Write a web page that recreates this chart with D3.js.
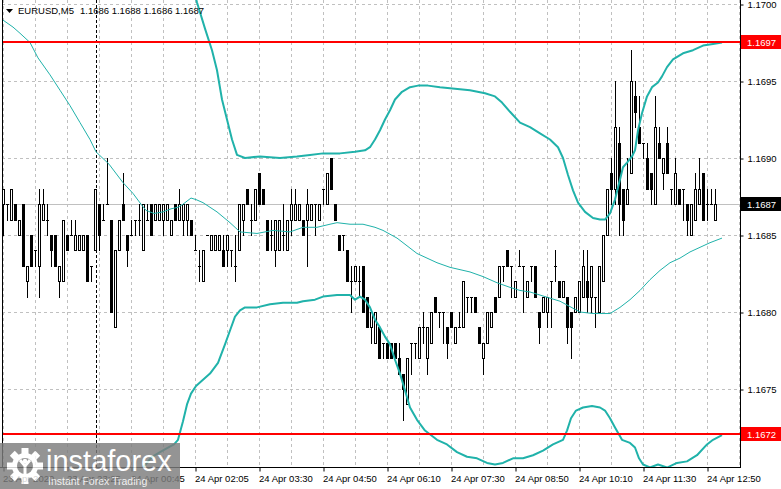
<!DOCTYPE html>
<html>
<head>
<meta charset="utf-8">
<script src="https://cdn.jsdelivr.net/npm/d3@7"></script>
<style>
body { margin: 0; background: #fff; }
svg { display: block; }
text { font-family: "Liberation Sans", Arial, sans-serif; }
</style>
</head>
<body>
<svg width="781" height="489"></svg>
<script>
// EURUSD M5 bars, 23 Apr 22:05 .. 24 Apr 13:00
const opens = [
1.1687,1.1687,1.1686,1.1687,1.1685,1.1687,1.1682,1.1685,1.1684,1.1683,
1.1686,1.1686,1.1685,1.1685,1.1682,1.1682,1.1685,1.1685,1.1684,1.1684,
1.1684,1.1685,1.1683,1.1684,1.1687,1.1686,1.1687,1.1686,1.1679,1.1684,
1.1687,1.1685,1.1685,1.1686,1.1686,1.1684,1.1686,1.1687,1.1686,1.1686,
1.1686,1.1686,1.1685,1.1687,1.1686,1.1686,1.1686,1.1686,1.1684,1.1683,
1.1682,1.1685,1.1684,1.1684,1.1684,1.1684,1.1684,1.1684,1.1683,1.1684,
1.1686,1.1688,1.1686,1.1686,1.1689,1.1688,1.1686,1.1685,1.1684,1.1684,
1.1685,1.1684,1.1686,1.1686,1.1686,1.1686,1.1686,1.1686,1.1687,1.1686,
1.1688,1.1687,1.1690,1.1687,1.1685,1.1685,1.1684,1.1682,1.1682,1.1682,
1.1683,1.1681,1.1679,1.1678,1.1679,1.1678,1.1678,1.1678,1.1678,1.1677,
1.1676,1.1674,1.1678,1.1678,1.1677,1.1679,1.1677,1.1678,1.1681,1.1680,
1.1680,1.1679,1.1680,1.1678,1.1679,1.1679,1.1681,1.1681,1.1681,1.1679,
1.1677,1.1678,1.1679,1.1681,1.1681,1.1683,1.1684,1.1683,1.1681,1.1683,
1.1683,1.1681,1.1683,1.1683,1.1680,1.1680,1.1680,1.1682,1.1683,1.1682,
1.1681,1.1681,1.1680,1.1680,1.1680,1.1681,1.1682,1.1681,1.1681,1.1680,
1.1682,1.1685,1.1689,1.1688,1.1691,1.1688,1.1687,1.1689,1.1694,1.1692,
1.1691,1.1690,1.1689,1.1687,1.1691,1.1689,1.1691,1.1688,1.1687,1.1688,
1.1688,1.1687,1.1685,1.1686,1.1687,1.1689,1.1687,1.1687,1.1686]
const highs = [
1.1688,1.1687,1.1688,1.1687,1.1686,1.1687,1.1683,1.1685,1.1684,1.1688,
1.1688,1.1687,1.1685,1.1685,1.1683,1.1686,1.1685,1.1686,1.1686,1.1685,
1.1685,1.1685,1.1683,1.1688,1.1687,1.1687,1.1690,1.1686,1.1684,1.1686,
1.1689,1.1685,1.1686,1.1686,1.1687,1.1687,1.1687,1.1687,1.1687,1.1687,
1.1687,1.1687,1.1686,1.1687,1.1688,1.1687,1.1687,1.1686,1.1685,1.1684,
1.1684,1.1685,1.1685,1.1685,1.1685,1.1685,1.1685,1.1684,1.1685,1.1687,
1.1687,1.1688,1.1687,1.1688,1.1689,1.1688,1.1686,1.1686,1.1686,1.1686,
1.1687,1.1686,1.1688,1.1688,1.1687,1.1686,1.1688,1.1687,1.1687,1.1687,
1.1688,1.1689,1.1690,1.1687,1.1685,1.1685,1.1684,1.1683,1.1683,1.1683,
1.1683,1.1681,1.1680,1.1680,1.1679,1.1678,1.1678,1.1678,1.1678,1.1678,
1.1676,1.1677,1.1678,1.1678,1.1679,1.1680,1.1679,1.1680,1.1681,1.1680,
1.1680,1.1679,1.1680,1.1679,1.1680,1.1682,1.1681,1.1681,1.1681,1.1679,
1.1678,1.1680,1.1680,1.1681,1.1683,1.1683,1.1684,1.1683,1.1682,1.1684,
1.1683,1.1682,1.1683,1.1683,1.1680,1.1681,1.1681,1.1682,1.1684,1.1682,
1.1682,1.1681,1.1680,1.1681,1.1682,1.1684,1.1684,1.1683,1.1681,1.1683,
1.1685,1.1688,1.1690,1.1695,1.1692,1.1688,1.1690,1.1697,1.1695,1.1694,
1.1691,1.1691,1.1689,1.1694,1.1692,1.1690,1.1692,1.1688,1.1690,1.1688,
1.1688,1.1687,1.1687,1.1689,1.1690,1.1689,1.1688,1.1688,1.1688]
const lows = [
1.1685,1.1686,1.1686,1.1686,1.1685,1.1683,1.1681,1.1683,1.1683,1.1681,
1.1686,1.1685,1.1683,1.1683,1.1681,1.1682,1.1684,1.1685,1.1684,1.1684,
1.1684,1.1682,1.1682,1.1684,1.1684,1.1686,1.1687,1.1680,1.1679,1.1684,
1.1686,1.1683,1.1685,1.1685,1.1685,1.1684,1.1686,1.1685,1.1686,1.1686,
1.1685,1.1686,1.1685,1.1686,1.1686,1.1685,1.1685,1.1685,1.1684,1.1682,
1.1682,1.1685,1.1684,1.1684,1.1684,1.1683,1.1683,1.1683,1.1682,1.1684,
1.1685,1.1687,1.1685,1.1686,1.1687,1.1687,1.1684,1.1684,1.1683,1.1684,
1.1684,1.1684,1.1685,1.1686,1.1686,1.1685,1.1683,1.1686,1.1685,1.1686,
1.1687,1.1687,1.1688,1.1686,1.1684,1.1684,1.1682,1.1680,1.1682,1.1681,
1.1680,1.1679,1.1678,1.1678,1.1677,1.1677,1.1677,1.1677,1.1677,1.1676,
1.1673,1.1674,1.1676,1.1677,1.1677,1.1678,1.1676,1.1678,1.1680,1.1679,
1.1678,1.1677,1.1679,1.1678,1.1679,1.1679,1.1680,1.1680,1.1680,1.1678,
1.1676,1.1678,1.1679,1.1680,1.1681,1.1682,1.1683,1.1681,1.1681,1.1683,
1.1680,1.1681,1.1682,1.1681,1.1678,1.1680,1.1679,1.1679,1.1682,1.1681,
1.1681,1.1678,1.1677,1.1680,1.1680,1.1681,1.1680,1.1680,1.1679,1.1680,
1.1682,1.1685,1.1687,1.1687,1.1685,1.1685,1.1687,1.1689,1.1692,1.1691,
1.1690,1.1688,1.1687,1.1687,1.1690,1.1688,1.1689,1.1687,1.1687,1.1687,
1.1686,1.1685,1.1685,1.1686,1.1687,1.1686,1.1686,1.1687,1.1686]
const closes = [
1.1688,1.1687,1.1688,1.1686,1.1686,1.1683,1.1683,1.1683,1.1684,1.1687,
1.1687,1.1686,1.1684,1.1683,1.1683,1.1686,1.1684,1.1685,1.1685,1.1685,
1.1685,1.1682,1.1683,1.1688,1.1685,1.1686,1.1687,1.1680,1.1684,1.1686,
1.1686,1.1684,1.1685,1.1686,1.1686,1.1687,1.1686,1.1685,1.1687,1.1687,
1.1687,1.1687,1.1686,1.1686,1.1687,1.1687,1.1687,1.1685,1.1684,1.1683,
1.1684,1.1685,1.1685,1.1685,1.1685,1.1683,1.1685,1.1684,1.1683,1.1687,
1.1687,1.1687,1.1686,1.1688,1.1687,1.1687,1.1684,1.1685,1.1686,1.1686,
1.1685,1.1686,1.1687,1.1687,1.1687,1.1685,1.1687,1.1687,1.1687,1.1687,
1.1688,1.1689,1.1688,1.1686,1.1684,1.1685,1.1682,1.1682,1.1683,1.1682,
1.1680,1.1679,1.1680,1.1680,1.1677,1.1678,1.1677,1.1677,1.1677,1.1676,
1.1675,1.1677,1.1678,1.1678,1.1679,1.1679,1.1679,1.1680,1.1680,1.1680,
1.1680,1.1678,1.1679,1.1679,1.1679,1.1682,1.1681,1.1681,1.1680,1.1678,
1.1678,1.1680,1.1680,1.1680,1.1683,1.1683,1.1683,1.1683,1.1682,1.1683,
1.1683,1.1682,1.1683,1.1681,1.1679,1.1681,1.1681,1.1682,1.1683,1.1681,
1.1682,1.1679,1.1679,1.1681,1.1682,1.1683,1.1681,1.1683,1.1681,1.1683,
1.1685,1.1688,1.1688,1.1692,1.1687,1.1686,1.1688,1.1695,1.1693,1.1691,
1.1691,1.1688,1.1688,1.1692,1.1690,1.1690,1.1689,1.1688,1.1689,1.1687,
1.1688,1.1686,1.1687,1.1688,1.1688,1.1686,1.1687,1.1687,1.1687]

// Bollinger bands: [bar index, price]
const upperBand = [
[46.75,1.17019],[48.5,1.17001],[50.5,1.16984],[52.25,1.16970],[53.5,1.16957],[54.75,1.16938],
[56,1.16925],[57.25,1.16912],[58.5,1.16902],[60.5,1.16900],[64.25,1.16901],[69.25,1.16900],
[73.5,1.16901],[76.75,1.16902],[80,1.16903],[84.25,1.16903],[88,1.16904],[90.5,1.16905],
[91.75,1.16907],[93,1.16912],[94.25,1.16918],[95.5,1.16925],[96.75,1.16931],[98,1.16938],
[99.75,1.16943],[101.75,1.16946],[103.75,1.16947],[106.25,1.16947],[109.25,1.16946],[113,1.16945],
[116.75,1.16944],[120.5,1.16942],[123,1.16940],[124.75,1.16936],[126.75,1.16930],[129.25,1.16923],
[131.75,1.16920],[134.25,1.16916],[136.75,1.16912],[138.75,1.16907],[140,1.16900],[141.25,1.16889],
[142.5,1.16879],[143.75,1.16871],[145.5,1.16865],[147.5,1.16861],[149.25,1.16860],[150.5,1.16860],
[151.75,1.16864],[153,1.16873],[154.25,1.16886],[155,1.16894],[156,1.16897],[157.25,1.16901],
[158,1.16905],[158.75,1.16918],[159.75,1.16929],[161,1.16940],[162.25,1.16946],[163.75,1.16949],
[164.75,1.16953],[166,1.16959],[167.5,1.16964],[170,1.16968],[172.5,1.16970],[175,1.16973],
[177.5,1.16974],[179.75,1.16975]]
const middleBand = [
[-1,1.16993],[-0.25,1.16990],[2.5,1.16985],[4.25,1.16981],[6.75,1.16975],[8.75,1.16965],[11.75,1.16954],
[14.25,1.16944],[16.75,1.16934],[19.25,1.16923],[21.75,1.16912],[23.25,1.16904],[26.5,1.16896],
[30,1.16884],[32.5,1.16877],[34.5,1.16870],[35.75,1.16866],[37.75,1.16864],[40,1.16865],
[42,1.16867],[43.75,1.16868],[45,1.16870],[47,1.16874],[48.25,1.16873],[50,1.16871],
[53.5,1.16865],[56.75,1.16858],[59.25,1.16852],[63.5,1.16851],[67.5,1.16853],[71.75,1.16852],
[75,1.16855],[78.5,1.16855],[81.75,1.16857],[83.5,1.16858],[86.75,1.16857],[90,1.16857],
[93,1.16855],[95,1.16853],[98.5,1.16848],[103.5,1.16838],[108.5,1.16832],[111.75,1.16829],
[116.75,1.16826],[120,1.16823],[123.5,1.16819],[126.75,1.16816],[129.25,1.16814],[131.75,1.16813],
[134.25,1.16811],[139.25,1.16807],[144.25,1.16800],[147.5,1.16799],[151.75,1.16799],[154.25,1.16803],
[156.75,1.16808],[159.25,1.16814],[161.75,1.16821],[164.25,1.16827],[166.75,1.16832],[169.25,1.16835],
[171.75,1.16839],[174.25,1.16842],[176.75,1.16845],[179.75,1.16848]]
const lowerBand = [
[33,1.16691],[35,1.16699],[37.25,1.16706],[39.25,1.16709],[41.25,1.16712],[42.75,1.16714],
[43.75,1.16717],[45,1.16729],[46,1.16740],[47,1.16747],[48.25,1.16752],[50,1.16756],
[51.75,1.16760],[53.75,1.16767],[55.5,1.16779],[56.75,1.16788],[58,1.16797],[59.25,1.16801],
[60.5,1.16803],[63.5,1.16803],[66.75,1.16805],[70,1.16806],[73.5,1.16806],[75,1.16807],
[78,1.16808],[80,1.16810],[83.5,1.16811],[86.75,1.16811],[88,1.16808],[89.25,1.16810],
[90.5,1.16808],[91.75,1.16803],[93,1.16795],[94.25,1.16790],[95.5,1.16784],[96.75,1.16779],
[98,1.16769],[99.25,1.16760],[100.5,1.16749],[101.75,1.16738],[103.5,1.16730],[105.5,1.16723],
[108.5,1.16717],[111,1.16714],[113.5,1.16709],[116,1.16706],[118.5,1.16705],[121,1.16702],
[123,1.16701],[125,1.16702],[127.5,1.16705],[130,1.16705],[132.5,1.16707],[135,1.16710],
[137.5,1.16714],[140,1.16717],[141,1.16723],[142,1.16731],[143.25,1.16736],[145,1.16738],
[147.25,1.16739],[149.25,1.16738],[150.5,1.16736],[151.75,1.16731],[153,1.16725],[154.75,1.16717],
[156.75,1.16715],[158,1.16712],[159,1.16705],[160,1.16701],[161.75,1.16699],[163.75,1.16701],
[166,1.16699],[168.5,1.16702],[171,1.16703],[173.5,1.16707],[176,1.16714],[177.5,1.16717],
[179.75,1.16720]]

const priceTicks = [1.1700, 1.1695, 1.1690, 1.1685, 1.1680, 1.1675]
const timeTickBars = [0, 16, 32, 48, 64, 80, 96, 112, 128, 144, 160, 176]
const timeTickLabels = ["23 Apr 2020", "23 Apr 23:25", "24 Apr 00:45", "24 Apr 02:05", "24 Apr 03:30",
    "24 Apr 04:50", "24 Apr 06:10", "24 Apr 07:30", "24 Apr 08:50", "24 Apr 10:10", "24 Apr 11:30", "24 Apr 12:50"]
const daySeparatorBar = 23.25
const levels = [{price: 1.16975, label: "1.1697"}, {price: 1.16721, label: "1.1672"}]
const lastPrice = 1.1687
const SYMBOL = "EURUSD,M5"
const OHLC_TEXT = "1.1686 1.1688 1.1686 1.1687"

const plotRight = 740, plotBottom = 467, plotLeft = 2;
const TEAL = "#20b2aa";
const GRID = "#c0c0c0";

const x = d3.scaleLinear().domain([0, 178]).range([3, 715]);
const y = d3.scaleLinear().domain([1.1680, 1.1700]).range([312, 4]);

const svg = d3.select("svg");

svg.append("defs").append("clipPath").attr("id", "plot")
    .append("rect").attr("x", plotLeft + 1).attr("y", 0)
    .attr("width", plotRight - plotLeft - 1).attr("height", plotBottom);

const plot = svg.append("g").attr("clip-path", "url(#plot)");

// grid
const gridBars = d3.range(0, 185, 8);
plot.selectAll("line.vgrid").data(gridBars).enter().append("line")
    .attr("x1", d => Math.round(x(d)) + 0.5).attr("x2", d => Math.round(x(d)) + 0.5)
    .attr("y1", 0).attr("y2", plotBottom)
    .attr("stroke", GRID).attr("stroke-dasharray", "3,3");
plot.selectAll("line.hgrid").data(priceTicks).enter().append("line")
    .attr("x1", plotLeft).attr("x2", plotRight)
    .attr("y1", d => Math.round(y(d)) + 0.5).attr("y2", d => Math.round(y(d)) + 0.5)
    .attr("stroke", GRID).attr("stroke-dasharray", "3,3");

// day separator
plot.append("line")
    .attr("x1", Math.round(x(daySeparatorBar)) + 0.5).attr("x2", Math.round(x(daySeparatorBar)) + 0.5)
    .attr("y1", 0).attr("y2", plotBottom)
    .attr("stroke", "#000").attr("stroke-dasharray", "3,2");

// bid line
plot.append("line")
    .attr("x1", plotLeft).attr("x2", plotRight)
    .attr("y1", Math.round(y(lastPrice)) + 0.5).attr("y2", Math.round(y(lastPrice)) + 0.5)
    .attr("stroke", GRID);

// candles
d3.range(opens.length).forEach(function (i)
{
    const cx = Math.round(x(i));
    const o = Math.round(y(opens[i])), c = Math.round(y(closes[i]));
    const h = Math.round(y(highs[i])), l = Math.round(y(lows[i]));

    plot.append("line")
        .attr("x1", cx + 0.5).attr("x2", cx + 0.5)
        .attr("y1", h).attr("y2", l + 1)
        .attr("stroke", "#000");

    if (o === c)
    {
        plot.append("line")
            .attr("x1", cx - 1).attr("x2", cx + 2)
            .attr("y1", o + 0.5).attr("y2", o + 0.5)
            .attr("stroke", "#000");
    }
    else if (closes[i] > opens[i])
    {
        plot.append("rect")
            .attr("x", cx - 0.5).attr("y", c + 0.5)
            .attr("width", 2).attr("height", o - c)
            .attr("fill", "#fff").attr("stroke", "#000");
    }
    else
    {
        plot.append("rect")
            .attr("x", cx - 1).attr("y", o)
            .attr("width", 3).attr("height", c - o + 1)
            .attr("fill", "#000");
    }
});

// bollinger bands
const bandLine = d3.line()
    .x(d => x(d[0]))
    .y(d => y(d[1]));

plot.append("path").datum(middleBand).attr("d", bandLine)
    .attr("fill", "none").attr("stroke", TEAL).attr("stroke-width", 1);
[upperBand, lowerBand].forEach(band =>
{
    plot.append("path").datum(band).attr("d", bandLine)
        .attr("fill", "none").attr("stroke", TEAL).attr("stroke-width", 2)
        .attr("stroke-linejoin", "round");
});

// horizontal levels
plot.selectAll("line.level").data(levels).enter().append("line")
    .attr("x1", plotLeft).attr("x2", plotRight)
    .attr("y1", d => Math.round(y(d.price))).attr("y2", d => Math.round(y(d.price)))
    .attr("stroke", "#ff0000").attr("stroke-width", 2);

// frame
svg.append("line").attr("x1", plotLeft + 0.5).attr("x2", plotLeft + 0.5)
    .attr("y1", 0).attr("y2", plotBottom).attr("stroke", "#000");

// price axis
const yAxis = svg.append("g")
    .attr("transform", "translate(" + (plotRight + 0.5) + ",0.5)")
    .call(d3.axisRight(y).tickValues(priceTicks).tickFormat(d3.format(".4f"))
        .tickSize(3).tickPadding(4));
yAxis.select(".domain").remove();
yAxis.selectAll("text").style("font-size", "9.5px").attr("fill", "#000");
svg.append("line").attr("x1", plotRight + 0.5).attr("x2", plotRight + 0.5)
    .attr("y1", 0).attr("y2", plotBottom + 1).attr("stroke", "#000");

// time axis
const xAxis = svg.append("g")
    .attr("transform", "translate(0.5," + (plotBottom + 0.5) + ")")
    .call(d3.axisBottom(x).tickValues(timeTickBars)
        .tickFormat((d, i) => timeTickLabels[i]).tickSize(4).tickPadding(2));
xAxis.select(".domain").remove();
xAxis.selectAll("text")
    .attr("text-anchor", "start").attr("dx", "-1").attr("dy", "0.9em")
    .style("font-size", "9.5px").attr("fill", "#000");
svg.append("line").attr("x1", 0).attr("x2", plotRight + 1)
    .attr("y1", plotBottom + 0.5).attr("y2", plotBottom + 0.5).attr("stroke", "#000");

// price tags
function tag(price, label, bg)
{
    const cy = Math.round(y(price));
    svg.append("rect").attr("x", 741).attr("y", cy - 7)
        .attr("width", 40).attr("height", 14).attr("fill", bg);
    svg.append("text").attr("x", 747).attr("y", cy + 3.5)
        .style("font-size", "9.5px").attr("fill", "#fff").text(label);
}
levels.forEach(d => tag(d.price, d.label, "#ff0000"));
tag(lastPrice, d3.format(".4f")(lastPrice), "#000");

// title
svg.append("path").attr("d", "M6,9 L13,9 L9.5,13 Z").attr("fill", "#000");
svg.append("text").attr("x", 18).attr("y", 14).style("font-size", "9.5px").text(SYMBOL);
svg.append("text").attr("x", 80).attr("y", 14).style("font-size", "9.5px").text(OHLC_TEXT);

// watermark
const logo = svg.append("g").attr("opacity", 0.82);
logo.append("rect").attr("x", 0).attr("y", 443).attr("width", 180).attr("height", 46)
    .attr("fill", "#7d7d7d");
const gear = logo.append("g").attr("transform", "translate(25,466)");
d3.range(8).forEach(k =>
{
    gear.append("rect").attr("x", -3.5).attr("y", -18).attr("width", 7).attr("height", 8)
        .attr("fill", "#fff").attr("transform", "rotate(" + (k * 45) + ")");
});
gear.append("circle").attr("r", 13).attr("fill", "#fff");
gear.append("circle").attr("r", 8).attr("fill", "#7d7d7d");
gear.append("path").attr("d", "M-5,-6 L0,0 L5,-6 M0,0 L0,9").attr("stroke", "#fff")
    .attr("stroke-width", 3).attr("fill", "none");
gear.append("circle").attr("cy", -5).attr("r", 2.2).attr("fill", "#fff");
logo.append("text").attr("x", 46).attr("y", 471).style("font-size", "29px")
    .attr("fill", "#fff").text("instaforex");
logo.append("text").attr("x", 48).attr("y", 485).style("font-size", "10.5px")
    .attr("fill", "#eee").text("Instant Forex Trading");
</script>
</body>
</html>
